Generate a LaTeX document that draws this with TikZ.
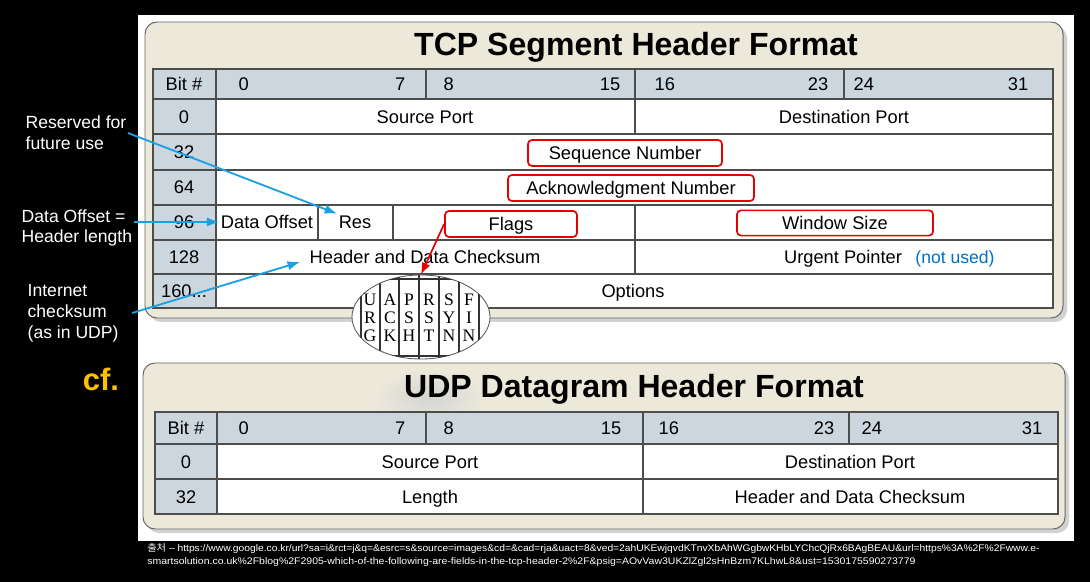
\documentclass[tikz,border=0pt]{standalone}
\usepackage{fontspec}
\setmainfont{Liberation Sans}
\newfontfamily\flagserif{Liberation Serif}
\newfontfamily\krfont{Noto Sans CJK KR}
\usetikzlibrary{arrows.meta,shapes.geometric,shadows}

\definecolor{boxbeige}{HTML}{ECE9DA}
\definecolor{hdrblue}{HTML}{CBD6DF}
\definecolor{rulegray}{HTML}{4D4D4D}
\definecolor{notecyan}{HTML}{1BA1E2}
\definecolor{markred}{HTML}{E60000}
\definecolor{unusedblue}{HTML}{0070C0}
\definecolor{cfgold}{HTML}{FFC000}

\begin{document}
\begin{tikzpicture}[x=0.025cm, y=-0.025cm, >=Latex,
  panel/.style={draw=gray!80!black, fill=boxbeige, rounded corners=0.3cm, line width=0.7pt,
    drop shadow={shadow xshift=0.1cm, shadow yshift=-0.1cm, opacity=0.35}},
  tablerule/.style={draw=rulegray, line width=0.8pt},
  cell/.style={font=\fontsize{13}{15}\selectfont, text height=9.3pt, text depth=0pt, inner sep=1pt},
  boxtitle/.style={font=\fontsize{22.8}{26}\selectfont\bfseries, text height=16.3pt, text depth=0pt},
  sidenote/.style={text=white, font=\fontsize{12.5}{14.8}\selectfont, align=left, inner sep=1pt, anchor=west},
  redbox/.style={draw=markred, line width=1.2pt, rounded corners=0.1cm},
  bluearrow/.style={->, draw=notecyan, line width=1.3pt},
  redarrow/.style={->, draw=markred, line width=1.2pt},
  flagletter/.style={font=\flagserif\fontsize{12.5}{12.9}\selectfont, align=center, inner sep=0pt},
  srcline/.style={text=white, font=\fontsize{6.8}{8}\selectfont, inner sep=0pt, anchor=west}]
\useasboundingbox (0,0) rectangle (1090,582);
\fill[black] (0,0) rectangle (1090,582);
\fill[white] (138,15) rectangle (1074,541);

% TCP header
\path[panel] (145,22) rectangle (1063,318);
\node[boxtitle] (tcptitle) at (636,44) {TCP Segment Header Format};
\fill[hdrblue] (153,69) rectangle (1053,99);
\fill[hdrblue] (153,99) rectangle (216,308);
\fill[white] (216,99) rectangle (1053,308);
\foreach \y in {99,134,170,205,240,274}
  \draw[tablerule] (153,\y) -- (1053,\y);
\draw[tablerule] (153,69) rectangle (1053,308);
\draw[tablerule] (216,69) -- (216,308);
\foreach \x in {426,635,844}
  \draw[tablerule] (\x,69) -- (\x,99);
\draw[tablerule] (635,99) -- (635,134);
\draw[tablerule] (635,205) -- (635,274);
\draw[tablerule] (318,205) -- (318,240);
\draw[tablerule] (393,205) -- (393,240);

\node[cell] (tcpbit) at (184,84) {Bit \#};
\foreach \n/\x in {0/237,8/442,16/653,24/852}
  \node[cell, anchor=west] (tcplo\n) at (\x,84) {\n};
\foreach \n/\x in {7/407,15/622,23/830,31/1030}
  \node[cell, anchor=east] (tcphi\n) at (\x,84) {\n};
\foreach \n/\y in {0/117,32/152,64/187,96/222,128/257}
  \node[cell] (tcprow\n) at (184,\y) {\n};
\node[cell] (tcprow160) at (184,291) {160...};

\node[cell] (tcpsrc) at (425,117) {Source Port};
\node[cell] (tcpdst) at (844,117) {Destination Port};
\node[cell, redbox, minimum width=4.85cm, minimum height=0.65cm] (seqbox) at (625,153) {Sequence Number};
\node[cell, redbox, minimum width=6.15cm, minimum height=0.65cm] (ackbox) at (631,188) {Acknowledgment Number};
\node[cell] (dooff) at (267,222) {Data Offset};
\node[cell] (restext) at (355,222) {Res};
\node[cell, redbox, minimum width=3.3cm, minimum height=0.65cm] (flagbox) at (511,224) {Flags};
\node[cell, redbox, minimum width=4.9cm, minimum height=0.63cm] (winbox) at (835,223) {Window Size};
\node[cell] (hdcks) at (425,257) {Header and Data Checksum};
\node[cell] (urgptr) at (843,257) {Urgent Pointer};
\node[cell, text=unusedblue, font=\fontsize{12.5}{15}\selectfont] (notused) at (955,257) {(not used)};
\node[cell] (tcpopt) at (633,291) {Options};

% zoomed flag bits
\node[ellipse, draw=gray!70!black, fill=white, line width=0.6pt, minimum width=3.45cm,
  minimum height=2.1cm, inner sep=0pt] (flagzoom) at (421,317) {};
\begin{scope}
  \clip (421,317) ellipse (69 and 42);
  \foreach \x in {361,380,399,419,439,459,479}
    \draw[black!80, line width=0.8pt] (\x,270) -- (\x,365);
  \draw[black!80, line width=1.6pt] (380,279) -- (462,279);
  \draw[black!80, line width=1.6pt] (380,356) -- (462,356);
\end{scope}
\foreach \t/\x [count=\i] in {{U\\R\\G}/370,{A\\C\\K}/390,{P\\S\\H}/409,{R\\S\\T}/429,{S\\Y\\N}/449,{F\\I\\N}/469}
  \node[flagletter] (flagbit\i) at (\x,318) {\t};
\draw[redarrow] (flagbox.west) -- (flagzoom.north);

% UDP header
\path[panel] (143,363) rectangle (1065,529);
\shade[inner color=black!17, outer color=boxbeige] (430,397) ellipse (55 and 28);
\node[boxtitle] (udptitle) at (634,386) {UDP Datagram Header Format};
\fill[hdrblue] (155,412) rectangle (1058,444);
\fill[hdrblue] (155,444) rectangle (217,514);
\fill[white] (217,444) rectangle (1058,514);
\draw[tablerule] (155,444) -- (1058,444);
\draw[tablerule] (155,479) -- (1058,479);
\draw[tablerule] (155,412) rectangle (1058,514);
\draw[tablerule] (217,412) -- (217,514);
\foreach \x in {426,849}
  \draw[tablerule] (\x,412) -- (\x,444);
\draw[tablerule] (643,412) -- (643,514);

\node[cell] (udpbit) at (186,428) {Bit \#};
\foreach \n/\x in {0/237,8/442,16/657,24/860}
  \node[cell, anchor=west] (udplo\n) at (\x,428) {\n};
\foreach \n/\x in {7/407,15/623,23/836,31/1044}
  \node[cell, anchor=east] (udphi\n) at (\x,428) {\n};
\node[cell] (udprow0) at (186,462) {0};
\node[cell] (udprow32) at (186,497) {32};
\node[cell] (udpsrc) at (430,462) {Source Port};
\node[cell] (udpdst) at (850,462) {Destination Port};
\node[cell] (udplen) at (430,497) {Length};
\node[cell] (udpcks) at (850,497) {Header and Data Checksum};

% notes on the left
\node[sidenote] (resnote) at (24,133) {Reserved for\\future use};
\node[sidenote] (offnote) at (20,228) {Data Offset =\\Header length};
\node[sidenote] (cksnote) at (26,313) {Internet\\checksum\\(as in UDP)};
\node[text=cfgold, font=\fontsize{22}{26}\selectfont\bfseries] (cfmark) at (101,379) {cf.};
\draw[bluearrow] (resnote.east) -- (restext.north west);
\draw[bluearrow] (offnote.east |- dooff.west) -- (dooff.west);
\draw[bluearrow] ([xshift=0.3cm]cksnote.east) -- ([shift={(-8,5)}]hdcks.west);

% source
\node[srcline] (srcA) at (147,549) {\resizebox{22.3cm}{\height}{{\krfont 출처} – https://www.google.co.kr/url?sa=i\&rct=j\&q=\&esrc=s\&source=images\&cd=\&cad=rja\&uact=8\&ved=2ahUKEwjqvdKTnvXbAhWGgbwKHbLYChcQjRx6BAgBEAU\&url=https\%3A\%2F\%2Fwww.e-}};
\node[srcline] (srcB) at (147,562) {\resizebox{19.2cm}{\height}{smartsolution.co.uk\%2Fblog\%2F2905-which-of-the-following-are-fields-in-the-tcp-header-2\%2F\&psig=AOvVaw3UKZlZgl2sHnBzm7KLhwL8\&ust=1530175590273779}};
\end{tikzpicture}
\end{document}
